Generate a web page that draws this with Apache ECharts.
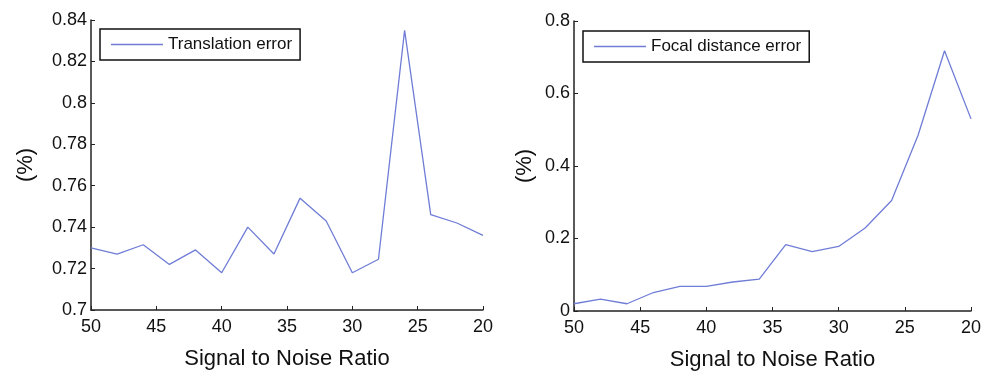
<!DOCTYPE html>
<html>
<head>
<meta charset="utf-8">
<script src="https://cdn.jsdelivr.net/npm/echarts@6/dist/echarts.min.js"></script>
<style>
  html, body { margin: 0; padding: 0; background: #fff; }
  #chart { width: 994px; height: 373px; }
</style>
</head>
<body>
<div id="chart"></div>
<script>
// Signal to noise ratio values (x axis runs from 50 down to 20)
const snr = [50, 48, 46, 44, 42, 40, 38, 36, 34, 32, 30, 28, 26, 24, 22, 20];
const translationError = [0.730, 0.727, 0.7315, 0.722, 0.729, 0.718, 0.740, 0.727,
  0.754, 0.743, 0.718, 0.7245, 0.835, 0.746, 0.742, 0.736];
const focalError = [0.020, 0.033, 0.020, 0.051, 0.068, 0.068, 0.080, 0.088,
  0.183, 0.164, 0.178, 0.229, 0.305, 0.485, 0.718, 0.530];

const lineColor = "#6f7dd6";
const font = "Liberation Sans";

const pairs = (ys) => snr.map((x, i) => [x, ys[i]]);

function xAxis(gridIndex) {
  return {
    type: "value", gridIndex, inverse: true, min: 20, max: 50, interval: 5,
    name: "Signal to Noise Ratio", nameLocation: "middle", nameGap: 38,
    nameTextStyle: { fontFamily: font, fontSize: 22, color: "#111" },
    axisLine: { lineStyle: { color: "#222", width: 1.5 } },
    axisTick: { inside: true, length: 4, lineStyle: { color: "#222" } },
    axisLabel: { fontFamily: font, fontSize: 18, color: "#111", margin: 8 },
    splitLine: { show: false }
  };
}

function yAxis(gridIndex, min, max, interval, gap) {
  return {
    type: "value", gridIndex, min, max, interval,
    name: "(%)", nameLocation: "middle", nameRotate: 90, nameGap: gap,
    nameTextStyle: { fontFamily: font, fontSize: 22, color: "#111" },
    axisLine: { show: true, lineStyle: { color: "#222", width: 1.5 } },
    axisTick: { show: true, inside: true, length: 4, lineStyle: { color: "#222" } },
    axisLabel: { fontFamily: font, fontSize: 18, color: "#111", margin: 4 },
    splitLine: { show: false }
  };
}

function legend(name, left, top) {
  return {
    data: [name], left, top,
    orient: "horizontal",
    icon: "rect",
    borderColor: "#111", borderWidth: 1.5, borderRadius: 0,
    padding: [7, 8, 7, 11],
    itemWidth: 52, itemHeight: 1.5, itemGap: 6,
    textStyle: { fontFamily: font, fontSize: 17, color: "#111" }
  };
}

const chart = echarts.init(document.getElementById("chart"), null, { renderer: "canvas" });

chart.setOption({
  backgroundColor: "#fff",
  animation: false,
  grid: [
    { left: 91, right: 511, top: 20, bottom: 63, outerBoundsMode: "none", containLabel: false },
    { left: 574, right: 23, top: 21, bottom: 62, outerBoundsMode: "none", containLabel: false }
  ],
  legend: [
    legend("Translation error", 100, 29),
    legend("Focal distance error", 583, 31)
  ],
  xAxis: [xAxis(0), xAxis(1)],
  yAxis: [yAxis(0, 0.7, 0.84, 0.02, 54), yAxis(1, 0, 0.8, 0.2, 38)],
  series: [
    {
      name: "Translation error", type: "line", xAxisIndex: 0, yAxisIndex: 0,
      symbol: "none", data: pairs(translationError),
      lineStyle: { color: lineColor, width: 1.3 }, itemStyle: { color: lineColor }
    },
    {
      name: "Focal distance error", type: "line", xAxisIndex: 1, yAxisIndex: 1,
      symbol: "none", data: pairs(focalError),
      lineStyle: { color: lineColor, width: 1.3 }, itemStyle: { color: lineColor }
    }
  ]
});
</script>
</body>
</html>
